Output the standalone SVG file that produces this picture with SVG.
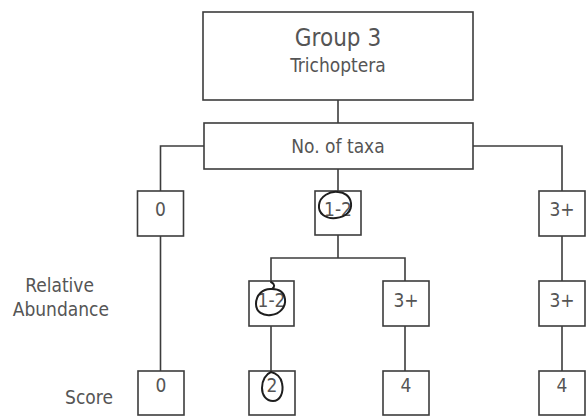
<svg xmlns="http://www.w3.org/2000/svg" width="587" height="417" viewBox="0 0 587 417">
  <style>
    .box { fill: #ffffff; stroke: #3c3c3c; stroke-width: 1.6; }
    .wire { fill: none; stroke: #3c3c3c; stroke-width: 1.6; }
    .ink { fill: none; stroke: #1e1e1e; stroke-width: 2; stroke-linecap: round; stroke-linejoin: round; }
    text { font-family: "DejaVu Sans Condensed", "DejaVu Sans", sans-serif; font-stretch: condensed; fill: #555555; font-size: 19px; text-anchor: middle; }
    .title { font-size: 24px; }
    .side { text-anchor: end; }
  </style>
  <rect width="587" height="417" fill="#ffffff"/>

  <!-- connectors -->
  <g id="connectors">
    <path class="wire" d="M338,100 V123"/>
    <path class="wire" d="M204,146 H160.5 V191"/>
    <path class="wire" d="M473,146 H562 V191"/>
    <path class="wire" d="M338,169 V191"/>
    <path class="wire" d="M160.5,236 V371"/>
    <path class="wire" d="M338,235 V258 M271,281 V258 H405 V281"/>
    <path class="wire" d="M562,236 V281"/>
    <path class="wire" d="M271,326 V371"/>
    <path class="wire" d="M405,326 V371"/>
    <path class="wire" d="M562,326 V371"/>
  </g>

  <g id="group">
    <rect class="box" x="203" y="12" width="270" height="88"/>
    <text class="title" x="338" y="46">Group 3</text>
    <text x="338" y="72">Trichoptera</text>
  </g>

  <g id="taxa">
    <rect class="box" x="204" y="123" width="269" height="46"/>
    <text x="338" y="153">No. of taxa</text>
  </g>

  <!-- number of taxa -->
  <g id="taxa-0">
    <rect class="box" x="137.5" y="191" width="46" height="45"/>
    <text x="160.5" y="216">0</text>
  </g>
  <g id="taxa-1-2">
    <rect class="box" x="315" y="191" width="46" height="44"/>
    <text x="338" y="216">1-2</text>
    <path class="ink" d="M338,192 C330,191 320,196 319,205 C318,214 326,219 336,218 C346,217 352,211 351,203 C350,196 344,192 338,192 Z"/>
  </g>
  <g id="taxa-3plus">
    <rect class="box" x="539" y="191" width="46" height="45"/>
    <text x="562" y="216">3+</text>
  </g>

  <!-- relative abundance -->
  <text class="side" x="94" y="292">Relative</text>
  <text class="side" x="109" y="316">Abundance</text>
  <g id="abund-1-2">
    <rect class="box" x="249" y="281" width="45" height="45"/>
    <text x="271.5" y="307">1-2</text>
    <path class="ink" d="M271,282 C275,284 275,287 272,289 C263,288 256,295 256,304 C256,312 263,316 271,315 C280,314 286,307 285,299 C284,292 279,289 272,289"/>
  </g>
  <g id="abund-3plus-mid">
    <rect class="box" x="383" y="281" width="46" height="45"/>
    <text x="406" y="307">3+</text>
  </g>
  <g id="abund-3plus-right">
    <rect class="box" x="539" y="281" width="46" height="45"/>
    <text x="562" y="307">3+</text>
  </g>

  <!-- score -->
  <text x="89" y="404">Score</text>
  <g id="score-0">
    <rect class="box" x="138" y="371" width="46" height="44"/>
    <text x="161" y="392">0</text>
  </g>
  <g id="score-2">
    <rect class="box" x="249" y="371" width="46" height="44"/>
    <text x="272" y="392">2</text>
    <path class="ink" d="M271,372 C276,373 281,377 282,383 C284,393 280,401 273,401 C266,401 262,395 262,388 C262,380 266,374 271,372 Z"/>
  </g>
  <g id="score-4-mid">
    <rect class="box" x="383" y="371" width="46" height="44"/>
    <text x="406" y="392">4</text>
  </g>
  <g id="score-4-right">
    <rect class="box" x="539" y="371" width="46" height="44"/>
    <text x="562" y="392">4</text>
  </g>
</svg>
